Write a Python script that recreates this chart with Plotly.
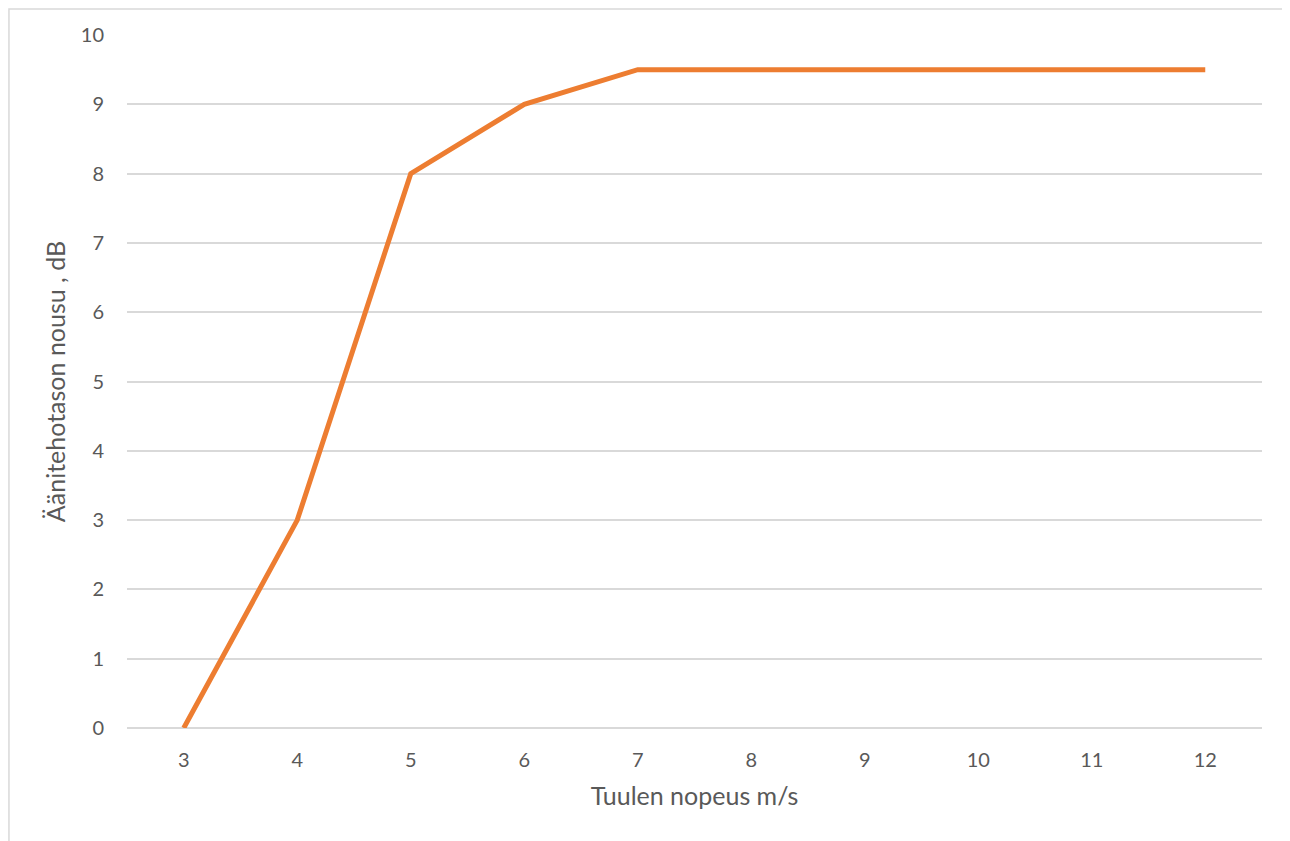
import plotly.graph_objects as go

wind_speed = ["3", "4", "5", "6", "7", "8", "9", "10", "11", "12"]
level_rise = [0, 3, 8, 9, 9.5, 9.5, 9.5, 9.5, 9.5, 9.5]
y_ticks = [0, 1, 2, 3, 4, 5, 6, 7, 8, 9, 10]

fig = go.Figure()
fig.add_trace(go.Scatter(x=wind_speed, y=level_rise, mode="lines",
                         line=dict(color="#ED7D31", width=5)))

# page body has an 8px margin, so the figure is a bit smaller than the window
fig.update_layout(
    width=1282, height=833,
    margin=dict(l=119, r=28, t=27, b=113),
    plot_bgcolor="white", paper_bgcolor="white",
    showlegend=False,
    font=dict(family="Lato, Open Sans, sans-serif", color="#595959", size=20),
)
fig.update_xaxes(
    type="category", range=[-0.5, 9.5], showgrid=False, showline=False, zeroline=False,
    ticks="outside", ticklen=14, tickcolor="rgba(0,0,0,0)",
    tickfont=dict(size=20),
    title=dict(text="Tuulen nopeus m/s", font=dict(size=25), standoff=17),
)
fig.update_yaxes(
    range=[0, 10], tickvals=y_ticks, showgrid=True, gridcolor="#D9D9D9", gridwidth=1.5,
    zeroline=True, zerolinecolor="#D9D9D9", zerolinewidth=1.5, showline=False,
    ticks="outside", ticklen=18, tickcolor="rgba(0,0,0,0)",
    tickfont=dict(size=20),
    title=dict(text="Äänitehotason nousu , dB", font=dict(size=25), standoff=8),
)
# chart frame (runs off right and bottom of the image)
fig.add_shape(type="rect", xref="paper", yref="paper",
              x0=-0.104, x1=1.2, y0=-0.3, y1=1.0375,
              line=dict(color="#D9D9D9", width=1.5), layer="below")

fig.write_html("out.html")
